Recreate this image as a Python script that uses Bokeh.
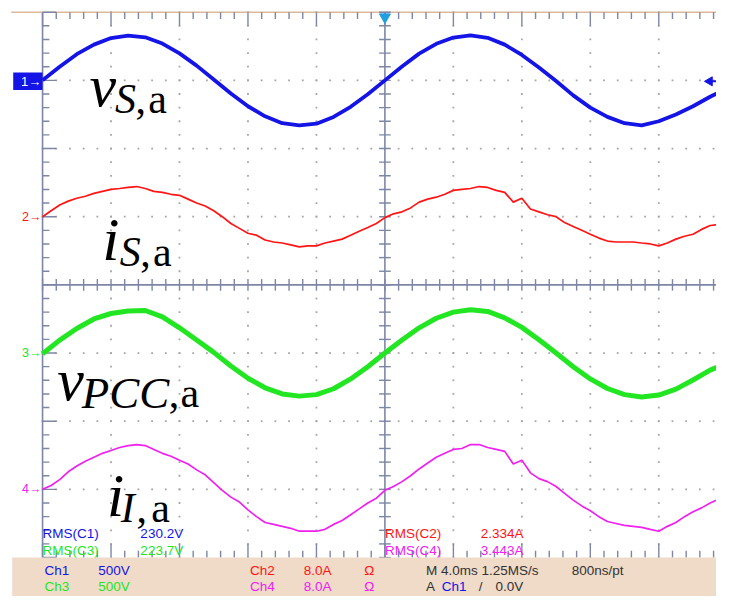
import numpy as np
from bokeh.plotting import figure
from bokeh.models import Range1d
from bokeh.core.properties import value
from bokeh.embed import file_html
from bokeh.resources import INLINE

# ---------------- data ----------------
# time in ms, trigger at 0
T_V = [-20, -19, -18, -17, -16, -15, -14, -13, -12, -11, -10, -9, -8, -7, -6, -5, -4, -3, -2, -1,
       0, 1, 2, 3, 4, 5, 6, 7, 8, 9, 10, 11, 12, 13, 14, 15, 16, 17, 18, 19, 19.4]
# Ch1: source voltage v_S,a (V)
VS_A = [0, 100, 192, 262, 310, 328, 316, 270, 198, 108, 6, -96, -190, -264, -314, -330, -318, -268, -194, -102,
        0, 102, 196, 268, 314, 330, 312, 262, 186, 94, -5, -110, -200, -268, -314, -330, -300, -250, -190, -120, -95]
# Ch3: PCC voltage v_PCC,a (V)
VPCC_A = [-5, 95, 180, 250, 290, 308, 312, 265, 185, 95, 5, -95, -185, -255, -300, -316, -305, -262, -190, -100,
          0, 95, 185, 255, 300, 318, 305, 258, 188, 98, 0, -100, -190, -260, -305, -322, -308, -265, -198, -125, -105]

T_I = [-20 + 0.5 * k for k in range(80)] + [19.4]
# Ch2: source current i_S,a (A)
IS_A = [0, 0.69, 1.37, 1.83, 2.17, 2.40, 2.74, 2.97, 3.20, 3.31, 3.43, 3.54, 3.31, 2.97, 2.86, 2.63, 2.51, 2.06, 1.60, 1.26,
        0.69, 0, -0.80, -1.37, -1.94, -2.17, -2.74, -2.97, -3.09, -3.31, -3.54, -3.43, -3.43, -3.09, -2.86, -2.63, -2.17, -1.71, -1.26, -0.80,
        -0.11, 0.34, 0.57, 1.03, 1.71, 2.06, 2.29, 2.63, 3.09, 3.20, 3.31, 3.54, 3.43, 3.09, 2.86, 1.71, 2.17, 0.91, 0.57, 0.23,
        0, -0.69, -1.14, -1.60, -2.06, -2.51, -2.86, -2.97, -2.97, -2.97, -3.09, -3.20, -3.43, -3.09, -2.63, -2.29, -2.06, -1.49, -1.03, -0.91,
        -0.91]
# Ch4: inverter current i_I,a (A)
II_A = [0, 0.46, 1.14, 2.06, 2.74, 3.31, 3.77, 4.23, 4.57, 4.91, 5.14, 5.26, 5.14, 4.69, 4.23, 3.89, 3.43, 2.97, 2.29, 1.71,
        0.80, -0.11, -0.91, -1.49, -2.40, -3.20, -3.89, -4.11, -4.34, -4.57, -4.91, -4.91, -4.91, -4.69, -4.11, -3.66, -2.97, -2.29, -1.60, -1.03,
        -0.11, 0.34, 0.91, 1.60, 2.40, 3.09, 3.77, 4.23, 4.69, 4.80, 5.26, 5.26, 4.91, 4.69, 4.46, 2.97, 3.43, 1.94, 1.26, 0.91,
        0.34, -0.46, -1.26, -1.94, -2.51, -3.20, -3.77, -4.00, -4.23, -4.34, -4.46, -4.69, -4.91, -4.34, -3.89, -3.20, -2.63, -2.17, -1.60, -1.14,
        -1.14]

RMS_LABELS = ["RMS(C1)", "RMS(C3)", "RMS(C2)", "RMS(C4)"]
RMS_VALUES = ["230.2V", "223.7V", "2.334A", "3.443A"]
CH_NAMES = ["Ch1", "Ch3", "Ch2", "Ch4"]
CH_SCALES = ["500V", "500V", "8.0A", "8.0A"]
TIMEBASE = "M 4.0ms 1.25MS/s"
SAMPLING = "800ns/pt"
TRIGGER = ["A", "Ch1", "/", "0.0V"]

MS_PER_DIV = 4.0
V_PER_DIV = 500.0
A_PER_DIV = 8.0
OFFSETS = {"ch1": 3, "ch2": 1, "ch3": -1, "ch4": -3}

BLUE = "#1414e6"
RED = "#ff1414"
GREEN = "#22e622"
MAGENTA = "#f020f0"
GRID = "#7d86a6"
DOT = "#a6a6a6"

# reference-pixel -> data helpers (layout only)
def tx(px):
    return (px - 393) / 70.0 * MS_PER_DIV

def ty(py):
    return (292 - py) / 70.0

Y_LO, Y_HI = ty(612), ty(0)

p = figure(width=716, height=596, x_range=Range1d(tx(0), tx(732)), y_range=Range1d(Y_LO, Y_HI),
           output_backend="svg", toolbar_location=None, x_axis_type=None, y_axis_type=None,
           min_border=0, outline_line_color=None, background_fill_color="white",
           border_fill_color="white")
p.min_border_left = p.min_border_right = p.min_border_top = p.min_border_bottom = 0

p.extra_y_ranges = {
    "ch1": Range1d((Y_LO - OFFSETS["ch1"]) * V_PER_DIV, (Y_HI - OFFSETS["ch1"]) * V_PER_DIV),
    "ch2": Range1d((Y_LO - OFFSETS["ch2"]) * A_PER_DIV, (Y_HI - OFFSETS["ch2"]) * A_PER_DIV),
    "ch3": Range1d((Y_LO - OFFSETS["ch3"]) * V_PER_DIV, (Y_HI - OFFSETS["ch3"]) * V_PER_DIV),
    "ch4": Range1d((Y_LO - OFFSETS["ch4"]) * A_PER_DIV, (Y_HI - OFFSETS["ch4"]) * A_PER_DIV),
}

# ---------------- graticule ----------------
steps = np.round(np.arange(-5, 5.001, 0.2), 3)
ysteps = np.round(np.arange(-4, 4.001, 0.2), 3)
dx, dy = [], []
for xd in [-4, -3, -2, -1, 1, 2, 3, 4]:
    for yd in ysteps:
        dx.append(xd * MS_PER_DIV); dy.append(yd)
for yd in [-3, -2, -1, 1, 2, 3]:
    for xd in steps:
        dx.append(xd * MS_PER_DIV); dy.append(yd)
p.scatter(dx, dy, marker="square", size=1.8, color=DOT, line_color=None)

# centre cross + borders
p.segment(x0=[0, -20, -20], y0=[-4, 0, -4], x1=[0, 20, -20], y1=[4, 0, 4], line_color=GRID, line_width=1.6)
p.segment(x0=[tx(11)], y0=[4], x1=[tx(732)], y1=[4], line_color="#dcb89c", line_width=1.5)

sx0, sy0, sx1, sy1 = [], [], [], []
for xd in steps:
    major = abs(xd - round(xd)) < 1e-6
    L = (14 if major else 7) / 70.0
    x = xd * MS_PER_DIV
    sx0 += [x, x, x]; sx1 += [x, x, x]
    sy0 += [4, -4, -0.085]; sy1 += [4 - L, -4 + L, 0.085]
for yd in ysteps:
    major = abs(yd - round(yd)) < 1e-6
    L = (14 if major else 7) / 70.0 * MS_PER_DIV
    sx0 += [-20, -0.34]; sx1 += [-20 + L, 0.34]
    sy0 += [yd, yd]; sy1 += [yd, yd]
p.segment(x0=sx0, y0=sy0, x1=sx1, y1=sy1, line_color=GRID, line_width=1.4)

# ---------------- traces ----------------
p.line(T_V, VPCC_A, y_range_name="ch3", line_color=GREEN, line_width=5, line_join="round")
p.line(T_V, VS_A, y_range_name="ch1", line_color=BLUE, line_width=3.8, line_join="round")
p.line(T_I, IS_A, y_range_name="ch2", line_color=RED, line_width=1.7)
p.line(T_I, II_A, y_range_name="ch4", line_color=MAGENTA, line_width=1.7)

# ---------------- readouts ----------------
SANS = value("Liberation Sans")
def put(txt, xs, ys, color, size="13.5px", font=SANS, style="normal", baseline="middle", align="left"):
    p.text(x=[tx(v) for v in xs], y=[ty(v) for v in ys], text=txt, text_color=color,
           text_font=font, text_font_size=size, text_font_style=style,
           text_baseline=baseline, text_align=align)

put([RMS_LABELS[0], RMS_VALUES[0]], [43, 143], [547, 547], BLUE)
put([RMS_LABELS[1], RMS_VALUES[1]], [43, 143], [565, 565], GREEN)
put([RMS_LABELS[2], RMS_VALUES[2]], [393, 491], [547, 547], RED)
put([RMS_LABELS[3], RMS_VALUES[3]], [393, 491], [565, 565], MAGENTA)

# status bar
p.quad(left=[tx(12)], right=[tx(732)], top=[ty(572)], bottom=[ty(612)], fill_color="#f0dac8", line_color=None)
put([CH_NAMES[0], CH_SCALES[0]], [45, 100], [585, 585], BLUE)
put([CH_NAMES[1], CH_SCALES[1]], [45, 100], [602, 602], GREEN)
put([CH_NAMES[2], CH_SCALES[2], "Ω"], [255, 310, 372], [585, 585, 585], RED)
put([CH_NAMES[3], CH_SCALES[3], "Ω"], [255, 310, 372], [602, 602, 602], MAGENTA)
put([TIMEBASE, SAMPLING], [435, 584], [585, 585], "#333333")
put([TRIGGER[0], TRIGGER[2], TRIGGER[3]], [435, 489, 506], [602, 602, 602], "#333333")
put([TRIGGER[1]], [451], [602], BLUE)

# ---------------- channel markers ----------------
p.quad(left=[tx(13)], right=[tx(43)], top=[ty(74)], bottom=[ty(92)], fill_color=BLUE, line_color=None)
put(["1→"], [21], [83], "white", size="13px")
put(["2→"], [22], [222], RED, size="12.5px")
put(["3→"], [22], [362], GREEN, size="12.5px")
put(["4→"], [22], [502], MAGENTA, size="12.5px")
p.scatter([tx(725)], [ty(83)], marker="triangle", angle=np.pi / 2, size=9, color=BLUE)
p.segment(x0=[tx(727)], y0=[ty(83)], x1=[tx(732)], y1=[ty(83)], line_color=BLUE, line_width=2)
p.scatter([0], [ty(17)], marker="inverted_triangle", size=11, color="#1e9fe0")

# ---------------- math labels ----------------
SERIF = value("Liberation Serif")
LABELS = [
    ("v", 91, 88, "60px", "italic"), ("S", 117, 101, "42px", "italic"), (",", 138, 101, "42px", "normal"), ("a", 151, 101, "42px", "normal"),
    ("i", 104, 245, "62px", "italic"), ("S", 122, 258, "42px", "italic"), (",", 143, 258, "42px", "normal"), ("a", 156, 258, "42px", "normal"),
    ("v", 58, 390, "60px", "italic"), ("PCC", 83, 403, "45px", "italic"), (",", 172, 403, "42px", "normal"), ("a", 184, 403, "42px", "normal"),
    ("i", 109, 508, "62px", "italic"), ("I", 123, 521, "42px", "italic"), (",", 139, 521, "42px", "normal"), ("a", 154, 521, "42px", "normal"),
]
for t, x, y, s, st in LABELS:
    put([t], [x], [y], "black", size=s, font=SERIF, style=st, baseline="alphabetic")

open("out.html", "w").write(file_html(p, INLINE))
